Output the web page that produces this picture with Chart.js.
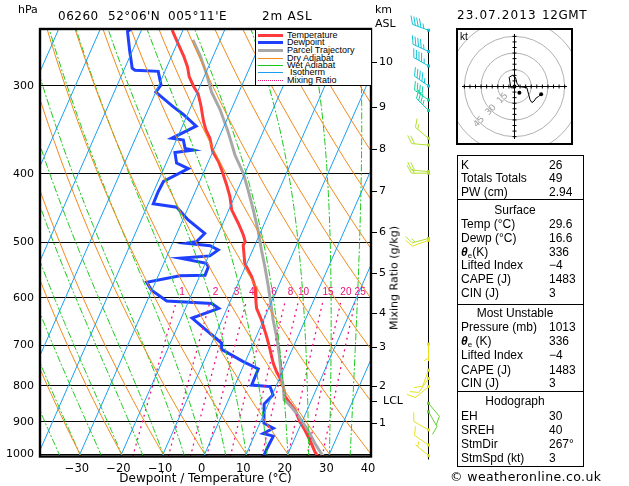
<!DOCTYPE html>
<html>
<head>
<meta charset="utf-8">
<title>Skew-T 06260</title>
<script src="https://cdn.jsdelivr.net/npm/chart.js@4.4.1/dist/chart.umd.min.js"></script>
<style>
  html, body { margin: 0; padding: 0; background: #fff; }
  #page { position: relative; width: 629px; height: 486px; overflow: hidden; font-family: "DejaVu Sans", sans-serif; color: #000; }
  #skew { position: absolute; left: 0; top: 0; }
  .txt { position: absolute; white-space: nowrap; line-height: 1; }
  #legend { position: absolute; left: 255px; top: 29px; width: 115px; height: 55px; background: #fff; border: 1px solid #000; font-family: "Liberation Sans", Arial, sans-serif; font-size: 9px; }
  .lg-line { position: absolute; left: 2px; width: 25px; height: 0; }
  .lg-text { position: absolute; line-height: 9px; white-space: nowrap; }
  #hodo { position: absolute; left: 456px; top: 28px; width: 113px; height: 113px; border: 2px solid #000; background: #fff; }
  #hodoCanvas { position: absolute; left: 0; top: 0; }
  .box { position: absolute; left: 457px; width: 125px; border: 1px solid #000; font-family: "Liberation Sans", Arial, sans-serif; font-size: 12px; }
  .row { position: absolute; left: 3px; line-height: 14px; white-space: nowrap; }
  .val { position: absolute; left: 91px; line-height: 14px; white-space: nowrap; }
  .ttl { position: absolute; left: 0; width: 114px; text-align: center; line-height: 14px; }
  sub { font-size: 8px; vertical-align: -2px; line-height: 0; }
</style>
</head>
<body>
<div id="page">
  <canvas id="skew" width="629" height="486"></canvas>

  <div class="txt" style="left:18px; top:4px; font-size:11px;">hPa</div>
  <div class="txt" style="left:58px; top:10px; font-size:12px; letter-spacing:0.5px;">06260</div>
  <div class="txt" style="left:108px; top:10px; font-size:12px; letter-spacing:0.5px;">52°06'N</div>
  <div class="txt" style="left:168px; top:10px; font-size:12px; letter-spacing:0.5px;">005°11'E</div>
  <div class="txt" style="left:262px; top:10px; font-size:12px; letter-spacing:0.8px;">2m ASL</div>
  <div class="txt" style="left:375px; top:4px; font-size:11px;">km</div>
  <div class="txt" style="left:375px; top:18px; font-size:11px;">ASL</div>
  <div class="txt" style="left:457px; top:9px; font-size:12px; letter-spacing:1.1px;">23.07.2013</div>
  <div class="txt" style="left:542px; top:9px; font-size:12px; letter-spacing:0.6px;">12GMT</div>
  <div class="txt" style="left:394px; top:278px; font-size:11px; transform:translate(-50%,-50%) rotate(-90deg);">Mixing Ratio (g/kg)</div>

  <div id="legend"></div>

  <div id="hodo">
    <canvas id="hodoCanvas" width="113" height="113"></canvas>
    <div class="txt" style="left:2px; top:2px; font-size:10px; font-family:'Liberation Sans',Arial,sans-serif;">kt</div>
  </div>

  <div class="box" style="top:155px; height:43px;">
    <div class="row" style="top:2px;">K</div><div class="val" style="top:2px;">26</div>
    <div class="row" style="top:15px;">Totals Totals</div><div class="val" style="top:15px;">49</div>
    <div class="row" style="top:29px;">PW (cm)</div><div class="val" style="top:29px;">2.94</div>
  </div>
  <div class="box" style="top:199px; height:104px;">
    <div class="ttl" style="top:3px;">Surface</div>
    <div class="row" style="top:17px;">Temp (°C)</div><div class="val" style="top:17px;">29.6</div>
    <div class="row" style="top:31px;">Dewp (°C)</div><div class="val" style="top:31px;">16.6</div>
    <div class="row" style="top:45px;"><b><i>θ</i></b><sub>e</sub>(K)</div><div class="val" style="top:45px;">336</div>
    <div class="row" style="top:58px;">Lifted Index</div><div class="val" style="top:58px;">−4</div>
    <div class="row" style="top:72px;">CAPE (J)</div><div class="val" style="top:72px;">1483</div>
    <div class="row" style="top:86px;">CIN (J)</div><div class="val" style="top:86px;">3</div>
  </div>
  <div class="box" style="top:304px; height:86px;">
    <div class="ttl" style="top:1px;">Most Unstable</div>
    <div class="row" style="top:15px;">Pressure (mb)</div><div class="val" style="top:15px;">1013</div>
    <div class="row" style="top:29px;"><b><i>θ</i></b><sub>e</sub> (K)</div><div class="val" style="top:29px;">336</div>
    <div class="row" style="top:43px;">Lifted Index</div><div class="val" style="top:43px;">−4</div>
    <div class="row" style="top:58px;">CAPE (J)</div><div class="val" style="top:58px;">1483</div>
    <div class="row" style="top:71px;">CIN (J)</div><div class="val" style="top:71px;">3</div>
  </div>
  <div class="box" style="top:391px; height:74px;">
    <div class="ttl" style="top:2px;">Hodograph</div>
    <div class="row" style="top:17px;">EH</div><div class="val" style="top:17px;">30</div>
    <div class="row" style="top:31px;">SREH</div><div class="val" style="top:31px;">40</div>
    <div class="row" style="top:45px;">StmDir</div><div class="val" style="top:45px;">267°</div>
    <div class="row" style="top:59px;">StmSpd (kt)</div><div class="val" style="top:59px;">3</div>
  </div>
  <div class="txt" style="left:450px; top:471px; font-size:12.5px; letter-spacing:0.4px;">© weatheronline.co.uk</div>
</div>

<script>
// ---- sounding 06260, 23.07.2013 12GMT ----
const tempP = [250, 259, 272, 282, 291, 300, 308, 320, 337, 346, 356, 372, 384, 395, 415, 431, 450, 470, 488, 499, 505, 536, 560, 578, 607, 621, 645, 681, 708, 743, 764, 789, 807, 829, 852, 866, 900, 925, 955, 993, 1009, 1013];
const tempT = [-52.6, -50.3, -47.1, -45.0, -43.6, -41.6, -39.6, -37.7, -35.4, -34.0, -32.1, -30.0, -27.6, -25.9, -23.1, -21.1, -19.3, -16.3, -13.9, -12.7, -12.8, -10.5, -7.4, -5.6, -3.8, -2.9, -0.5, 2.5, 4.5, 6.9, 8.6, 10.9, 12.1, 13.3, 15.7, 17.1, 19.5, 21.6, 23.8, 26.3, 27.6, 29.6];

const dewP = [249, 251, 267, 283, 285, 286, 299, 306, 321, 329, 342, 356, 358, 368, 370, 373, 386, 393, 410, 424, 441, 446, 465, 486, 499, 502, 506, 513, 523, 527, 536, 542, 557, 558, 570, 585, 606, 611, 621, 641, 696, 710, 739, 757, 798, 802, 824, 849, 904, 919, 935, 943, 981, 1009, 1013];
const dewT = [-62.6, -63.2, -60.7, -58.2, -57.3, -51.6, -49.5, -50.0, -44.3, -41.1, -36.7, -41.3, -38.3, -37.0, -34.9, -39.0, -37.5, -34.1, -38.7, -38.9, -38.8, -32.8, -28.7, -23.3, -24.4, -26.6, -20.7, -18.3, -19.7, -26.6, -19.7, -18.9, -18.8, -24.8, -32.1, -30.1, -25.3, -14.2, -12.0, -17.4, -7.6, -7.0, -0.5, 3.9, 4.0, 8.6, 10.2, 9.0, 11.0, 13.8, 11.9, 14.6, 14.4, 14.4, 16.6];

const parcelP = [258, 272, 289, 306, 324, 348, 376, 399, 422, 450, 481, 513, 542, 578, 618, 645, 681, 727, 777, 802, 838, 847, 875, 904, 935, 966, 1001, 1013];
const parcelT = [-46.6, -43.1, -39.6, -36.6, -32.7, -28.5, -24.3, -20.4, -17.4, -14.1, -10.8, -7.9, -5.3, -2.4, 0.5, 2.3, 4.9, 7.7, 10.3, 11.8, 13.4, 14.7, 17.8, 20.5, 23.1, 25.4, 28.2, 29.6];

// wind barbs (direction deg, speed kt)
const windP   = [250, 268, 281, 300, 314, 325, 356, 364, 397, 399, 494, 497, 698, 760, 781, 802, 847, 871, 924, 971, 1005];
const windDir = [290, 295, 300, 305, 305, 315, 310, 275, 275, 270, 255, 250, 180, 200, 215, 230, 140, 150, 300, 305, 310];
const windSpd = [45, 45, 45, 45, 40, 35, 15, 20, 20, 15, 15, 10, 5, 10, 10, 10, 12, 12, 8, 8, 5];

// hodograph trace (u, v in kt)
const hodoU = [0.6, -3.3, -4.8, -1.9, 0.8, 2.3, 4.4, 11.1, 12.8, 13.9, 15.6, 17.5, 19.4, 21.7, 23.9];
const hodoV = [-1.4, -1.1, 8.3, 10, 8.3, 2.8, 0, -1.1, -7.5, -11.7, -14.4, -13.1, -10.3, -8.9, -6.9];
const stormU = 4.4, stormV = -5.6;
const hodoRings = [15, 30, 45, 60];
const hodoRingLabels = [15, 30, 45];

// axes and background lines
const pressureTicks = [300, 400, 500, 600, 700, 800, 900, 1000];
const tempTicks = [-30, -20, -10, 0, 10, 20, 30, 40];
const isotherms = [-90, -80, -70, -60, -50, -40, -30, -20, -10, 0, 10, 20, 30, 40];
const dryAdiabats = [-40, -30, -20, -10, 0, 10, 20, 30, 40, 50, 60, 70, 80, 90, 100, 110, 120, 130];
const wetAdiabats = [-40, -35, -30, -25, -20, -15, -10, -5, 0, 5, 10, 15, 20, 25, 30, 35, 40];
const mixingRatios = [1, 2, 3, 4, 6, 8, 10, 15, 20, 25];
const kmLabels = ['1', '2', '3', '4', '5', '6', '7', '8', '9', '10'];
const kmP = [903, 800, 705, 630, 553, 484, 423, 369, 321, 277];
const lclP = 840;

const SKEW = 32.3;   // degC of shift per ln(1000/p)
const toX = (t, p) => t + SKEW * Math.log(1000 / p);

function profile(P, T) {
    return P.map((p, i) => ({ x: toX(T[i], p), y: p }));
}

function dewFromMix(w, p) {
    const e = w * p / (622 + w);
    const l = Math.log(e / 6.112);
    return 243.5 * l / (17.67 - l);
}

function moistRate(T, p) {
    const es = 6.112 * Math.exp(17.67 * (T - 273.15) / (T - 29.65));
    const rs = 0.622 * es / (p - es);
    const Rd = 287.04, cp = 1005.7, Lv = 2.501e6;
    return (Rd * T + Lv * rs) / (p * (cp + Lv * Lv * rs * 0.622 / (Rd * T * T)));
}

function lineDS(data, color, width, dash) {
    return { data: data, showLine: true, borderColor: color, borderWidth: width, borderDash: dash || [],
             pointRadius: 0, pointHoverRadius: 0, fill: false, tension: 0, clip: 0 };
}

const datasets = [];
isotherms.forEach(t => {
    datasets.push(lineDS([{ x: toX(t, 1100), y: 1100 }, { x: toX(t, 240), y: 240 }], '#1aa0f0', 1));
});
dryAdiabats.forEach(th => {
    const pts = [];
    for (let p = 1020; p >= 240; p -= 20) {
        const t = (th + 273.15) * Math.pow(p / 1000, 0.2857) - 273.15;
        pts.push({ x: toX(t, p), y: p });
    }
    datasets.push(lineDS(pts, '#f08a1c', 1));
});
wetAdiabats.forEach(tw => {
    let T = tw + 273.15;
    const pts = [{ x: toX(T + 10 * moistRate(T, 1000) - 273.15, 1010), y: 1010 }];
    for (let p = 1000; p >= 240; p -= 5) {
        pts.push({ x: toX(T - 273.15, p), y: p });
        T -= 5 * moistRate(T, p);
    }
    datasets.push(lineDS(pts, '#18c818', 1, [7, 2, 2, 2]));
});
mixingRatios.forEach(w => {
    const pts = [1010, 900, 800, 700, 610].map(p => ({ x: toX(dewFromMix(w, p), p), y: p }));
    datasets.push(lineDS(pts, '#f0147f', 1.3, [2, 4]));
});
datasets.push(lineDS(profile(dewP, dewT), '#2040ff', 3));
datasets.push(lineDS(profile(parcelP, parcelT), '#a8a8a8', 3));
datasets.push(lineDS(profile(tempP, tempT), '#ff3b3b', 3));

function barbColor(s) {
    if (s >= 45) return '#12c4d8';
    if (s >= 35) return '#14d0a4';
    if (s >= 15) return '#b0e030';
    if (s >= 12) return '#66d030';
    return '#e6e020';
}

function drawBarb(ctx, x, y, dir, spd, color) {
    const a = dir * Math.PI / 180;
    const ux = Math.sin(a), uy = -Math.cos(a);
    const L = 17;
    const tx = x + ux * L, ty = y + uy * L;
    const px = -uy, py = ux;
    ctx.strokeStyle = color;
    ctx.fillStyle = color;
    ctx.lineWidth = 1;
    ctx.beginPath();
    ctx.moveTo(x, y);
    ctx.lineTo(tx, ty);
    const s = Math.round(spd / 5) * 5;
    const full = Math.floor(s / 10), half = s % 10 ? 1 : 0;
    let k = (full === 0 && half) ? 1 : 0;
    const feather = (k, len) => {
        const bx = tx - ux * k * 3, by = ty - uy * k * 3;
        ctx.moveTo(bx, by);
        ctx.lineTo(bx + (px * 0.87 + ux * 0.5) * len, by + (py * 0.87 + uy * 0.5) * len);
    };
    for (let f = 0; f < full; f++, k++) feather(k, 9);
    if (half) feather(k, 5);
    ctx.stroke();
    ctx.fillRect(x - 1.5, y - 1.5, 3, 3);
}

const framePlugin = {
    id: 'frame',
    afterDatasetsDraw(chart) {
        const { ctx, chartArea: a, scales: { y } } = chart;
        ctx.save();
        ctx.strokeStyle = '#000';
        ctx.lineWidth = 2.4;
        ctx.strokeRect(a.left, a.top, a.right - a.left, a.bottom - a.top);
        ctx.lineWidth = 1;
        ctx.beginPath();
        kmP.concat([lclP]).forEach(p => {
            const py = Math.round(y.getPixelForValue(p)) + 0.5;
            ctx.moveTo(a.right, py);
            ctx.lineTo(a.right + 6, py);
        });
        ctx.stroke();
        ctx.restore();
    }
};

const windPlugin = {
    id: 'winds',
    afterDatasetsDraw(chart) {
        const { ctx, chartArea: a, scales: { y } } = chart;
        const x0 = 428.5;
        ctx.save();
        ctx.strokeStyle = '#000';
        ctx.lineWidth = 1;
        ctx.beginPath();
        ctx.moveTo(x0, a.top);
        ctx.lineTo(x0, a.bottom + 3);
        ctx.stroke();
        windP.forEach((p, i) => {
            drawBarb(ctx, x0, y.getPixelForValue(p), windDir[i], windSpd[i], barbColor(windSpd[i]));
        });
        ctx.restore();
    }
};

const tickFont = { family: 'DejaVu Sans', size: 11.5 };

const chart = new Chart(document.getElementById('skew'), {
    type: 'scatter',
    data: { datasets: datasets },
    options: {
        responsive: false,
        animation: false,
        devicePixelRatio: 1,
        events: [],
        layout: { padding: { left: 0, top: 29, right: 258, bottom: 0 } },
        plugins: { legend: { display: false }, tooltip: { enabled: false } },
        scales: {
            x: {
                type: 'linear', min: -39.6, max: 40,
                afterBuildTicks: s => { s.ticks = tempTicks.map(v => ({ value: v })); },
                afterFit: s => { s.height = 29.5; },
                grid: { display: false, drawTicks: false },
                border: { display: false },
                ticks: { color: '#000', font: tickFont, padding: 5.5, labelOffset: -3,
                         autoSkip: false, maxRotation: 0,
                         callback: v => v < 0 ? '−' + Math.abs(v) : String(v) },
                title: { display: true, text: 'Dewpoint / Temperature (°C)', color: '#000',
                         font: { family: 'DejaVu Sans', size: 12 }, padding: 0 }
            },
            y: {
                type: 'logarithmic', reverse: true, min: 249, max: 1008,
                afterBuildTicks: s => { s.ticks = pressureTicks.map(v => ({ value: v })); },
                afterFit: s => { s.width = 40; },
                grid: { color: '#000', lineWidth: 1, drawTicks: false },
                border: { display: false },
                ticks: { color: '#000', font: { family: 'DejaVu Sans', size: 11 }, padding: 6,
                         autoSkip: false, callback: v => String(v) }
            }
        }
    },
    plugins: [framePlugin, windPlugin]
});

// texts placed through the chart's scales
const page = document.getElementById('page');
function addText(text, left, top, style) {
    const d = document.createElement('div');
    d.className = 'txt';
    d.textContent = text;
    d.style.left = left + 'px';
    d.style.top = top + 'px';
    Object.assign(d.style, style || {});
    page.appendChild(d);
    return d;
}
const xS = chart.scales.x, yS = chart.scales.y;
kmP.forEach((p, i) => addText(kmLabels[i], 379, yS.getPixelForValue(p) - 6, { fontSize: '11px' }));
addText('LCL', 383, yS.getPixelForValue(lclP) - 6, { fontSize: '11px' });
mixingRatios.forEach(w => {
    const p = 589;
    addText(String(w), xS.getPixelForValue(toX(dewFromMix(w, p), p)) + 3, yS.getPixelForValue(p) - 5,
            { fontSize: '10px', color: '#e8127c', fontFamily: '"Liberation Sans", Arial, sans-serif',
              transform: 'translateX(-50%)' });
});

// legend
const legendItems = [
    { label: 'Temperature', color: '#ff3b3b', width: 3, style: 'solid', y: 5 },
    { label: 'Dewpoint', color: '#2040ff', width: 3, style: 'solid', y: 12.7 },
    { label: 'Parcel Trajectory', color: '#a8a8a8', width: 3, style: 'solid', y: 20.7 },
    { label: 'Dry Adiabat', color: '#f08a1c', width: 1, style: 'solid', y: 28.3 },
    { label: 'Wet Adiabat', color: '#18c818', width: 1, style: 'solid', y: 35.3 },
    { label: 'Isotherm', color: '#1aa0f0', width: 1, style: 'solid', y: 42.3, indent: 3 },
    { label: 'Mixing Ratio', color: '#f0147f', width: 1, style: 'dotted', y: 50 }
];
const legend = document.getElementById('legend');
legendItems.forEach(it => {
    const ln = document.createElement('div');
    ln.className = 'lg-line';
    ln.style.top = (it.y - it.width / 2) + 'px';
    ln.style.borderTop = it.width + 'px ' + it.style + ' ' + it.color;
    legend.appendChild(ln);
    const tx = document.createElement('div');
    tx.className = 'lg-text';
    tx.textContent = it.label;
    tx.style.left = (31 + (it.indent || 0)) + 'px';
    tx.style.top = (it.y - 4.4) + 'px';
    legend.appendChild(tx);
});

// hodograph
const hodoGrid = {
    id: 'hodoGrid',
    beforeDatasetsDraw(ch) {
        const { ctx, scales: { x, y } } = ch;
        const cx = x.getPixelForValue(0), cy = y.getPixelForValue(0);
        ctx.save();
        ctx.strokeStyle = '#b0b0b0';
        ctx.lineWidth = 1;
        hodoRings.forEach(r => {
            ctx.beginPath();
            ctx.arc(cx, cy, x.getPixelForValue(r) - cx, 0, 2 * Math.PI);
            ctx.stroke();
        });
        ctx.strokeStyle = '#000';
        ctx.beginPath();
        ctx.moveTo(x.getPixelForValue(x.min), cy); ctx.lineTo(x.getPixelForValue(x.max), cy);
        ctx.moveTo(cx, y.getPixelForValue(y.min)); ctx.lineTo(cx, y.getPixelForValue(y.max));
        for (let k = -45; k <= 45; k += 5) {
            if (k === 0) continue;
            const tx = x.getPixelForValue(k), ty = y.getPixelForValue(k);
            ctx.moveTo(tx, cy - 2); ctx.lineTo(tx, cy + 2);
            ctx.moveTo(cx - 2, ty); ctx.lineTo(cx + 2, ty);
        }
        ctx.stroke();
        ctx.fillStyle = '#a0a0a0';
        ctx.font = '9px "DejaVu Sans"';
        ctx.textAlign = 'center';
        ctx.textBaseline = 'middle';
        hodoRingLabels.forEach(r => {
            const lx = x.getPixelForValue(-r * 0.7071), ly = y.getPixelForValue(-r * 0.7071);
            ctx.save();
            ctx.translate(lx, ly);
            ctx.rotate(-Math.PI / 4);
            ctx.fillText(String(r), 0, 0);
            ctx.restore();
        });
        ctx.restore();
    }
};

const last = hodoU.length - 1;
new Chart(document.getElementById('hodoCanvas'), {
    type: 'scatter',
    data: {
        datasets: [
            { data: hodoU.map((u, i) => ({ x: u, y: hodoV[i] })), showLine: true, borderColor: '#000',
              borderWidth: 1, pointRadius: 0, tension: 0 },
            { data: [{ x: hodoU[last], y: hodoV[last] }, { x: stormU, y: stormV }, { x: 0, y: 0 }],
              showLine: false, pointRadius: 2, backgroundColor: '#000', borderColor: '#000', borderWidth: 0 }
        ]
    },
    options: {
        responsive: false,
        animation: false,
        devicePixelRatio: 1,
        events: [],
        layout: { padding: 0 },
        plugins: { legend: { display: false }, tooltip: { enabled: false } },
        scales: {
            x: { type: 'linear', min: -47.1, max: 47.1, display: false },
            y: { type: 'linear', min: -47.1, max: 47.1, display: false }
        }
    },
    plugins: [hodoGrid]
});
</script>
</body>
</html>
